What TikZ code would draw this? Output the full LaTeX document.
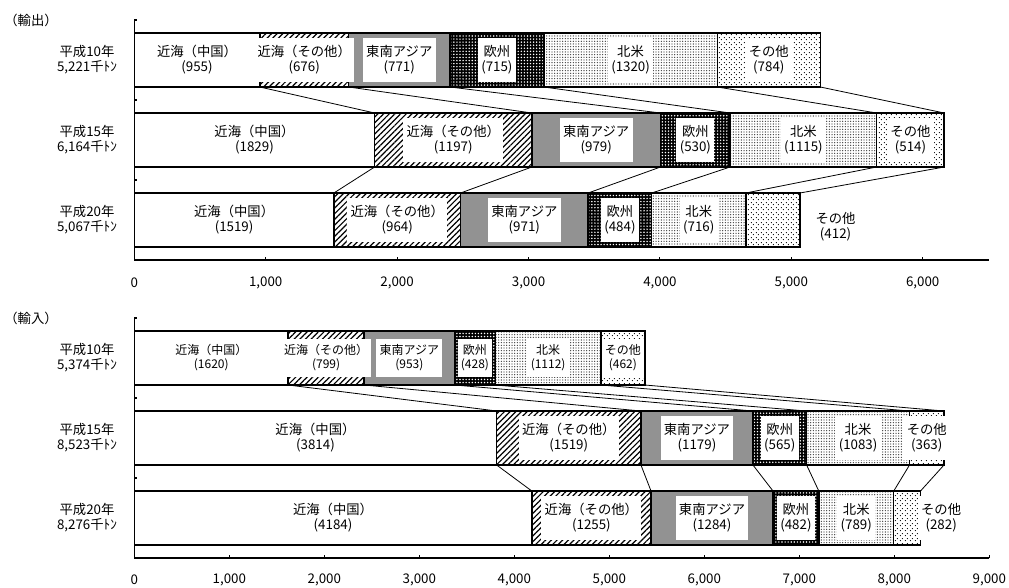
\documentclass[tikz,border=0pt]{standalone}
\usepackage{fontspec}
\newfontfamily\jpfont{Noto Sans CJK JP}
\usetikzlibrary{patterns}
\usetikzlibrary{patterns.meta}

\def\xo{134.3}
\def\bh{54}

% one stacked bar: #1 name, #2 top edge, #3 px per unit, #4 segments
\newcommand{\segrow}[4]{%
  \foreach \a/\b/\sty/\ls/\txt [count=\k] in {#4}{
    \draw[seg, \sty] ({\xo+\a*#3},#2) rectangle ({\xo+\b*#3},#2+\bh);
    \coordinate (#1-\k-t) at ({\xo+\b*#3},#2);
    \coordinate (#1-\k-b) at ({\xo+\b*#3},#2+\bh);
  }
  \foreach \a/\b/\sty/\ls/\txt [count=\k] in {#4}
    \node[\ls] (#1-\k) at ({\xo+\a*#3/2+\b*#3/2},#2+\bh/2) {\txt};
}

\begin{document}
\begin{tikzpicture}[
  x=0.75pt, y=-0.75pt,
  font=\jpfont\fontsize{10}{11.3}\selectfont,
  seg/.style={draw, line width=1.1pt},
  cn/.style={fill=white},
  hatch/.style={preaction={fill=white}, pattern={Lines[angle=45,distance=3pt,line width=0.9pt]}},
  sea/.style={preaction={fill=black!25}, pattern={Dots[distance=1.5pt,radius=0.45pt]}, pattern color=black},
  eu/.style={preaction={fill=black}, pattern={Dots[distance=2.3pt,radius=0.6pt]}, pattern color=white},
  na/.style={preaction={fill=white}, pattern={Dots[distance=2pt,radius=0.5pt]}, pattern color=black!75},
  oth/.style={preaction={fill=white}, pattern={Dots[distance=4pt,radius=0.5pt]},
    postaction={pattern={Dots[distance=4pt,radius=0.5pt,xshift=2pt,yshift=2pt]}}},
  lbl/.style={fill=white, align=center, inner xsep=2.5pt, inner ysep=5.5pt},
  lbls/.style={lbl, font=\jpfont\fontsize{9}{10.5}\selectfont, inner ysep=4.5pt},
  lblA/.style={lbl, fill=none, xshift=47pt, yshift=-5pt},
  lblB/.style={lbl, xshift=25.5pt},
  axis/.style={line width=0.8pt},
  link/.style={line width=0.6pt},
  ylab/.style={align=center}
]
\useasboundingbox (0,0) rectangle (1009,588);

% --- export ---
\node (hexp) at (31,20) {（輸出）};
\draw[axis] (\xo,20) -- (\xo,260) -- (989,260);
\foreach \y in {20,100,180} \draw[axis] (\xo,\y) -- ++(3,0);
\foreach \v/\t in {0/0,1/{1,000},2/{2,000},3/{3,000},4/{4,000},5/{5,000},6/{6,000}}{
  \draw[axis] ({\xo+\v*131.4},260) -- ++(0,-3);
  \node (te\v) at ({\xo+\v*131.4},283) {\t};
}

\node[ylab] (ye98) at (87,60) {平成10年\\5,221千ﾄﾝ};
\node[ylab] (ye03) at (87,140) {平成15年\\6,164千ﾄﾝ};
\node[ylab] (ye08) at (87,220) {平成20年\\5,067千ﾄﾝ};

\segrow{e98}{33}{0.1314}{0/955/cn/lbl/近海（中国）\\(955), 955/1631/hatch/lbl/近海（その他）\\(676),
  1631/2402/sea/lbl/東南アジア\\(771), 2402/3117/eu/lbl/欧州\\(715),
  3117/4437/na/lbl/北米\\(1320), 4437/5221/oth/lbl/その他\\(784)}
\segrow{e03}{113}{0.1314}{0/1829/cn/lbl/近海（中国）\\(1829), 1829/3026/hatch/lbl/近海（その他）\\(1197),
  3026/4005/sea/lbl/東南アジア\\(979), 4005/4535/eu/lbl/欧州\\(530),
  4535/5650/na/lbl/北米\\(1115), 5650/6164/oth/lbl/その他\\(514)}
\segrow{e08}{193}{0.1314}{0/1519/cn/lbl/近海（中国）\\(1519), 1519/2483/hatch/lbl/近海（その他）\\(964),
  2483/3454/sea/lbl/東南アジア\\(971), 3454/3938/eu/lbl/欧州\\(484),
  3938/4654/na/lbl/北米\\(716), 4654/5066/oth/lblA/その他\\(412)}

\foreach \k in {1,...,6}{
  \draw[link] (e98-\k-b) -- (e03-\k-t);
  \draw[link] (e03-\k-b) -- (e08-\k-t);
}

% --- import ---
\node (himp) at (31,318) {（輸入）};
\draw[axis] (\xo,318) -- (\xo,558) -- (989,558);
\foreach \y in {318,398,478} \draw[axis] (\xo,\y) -- ++(3,0);
\foreach \v/\t in {0/0,1/{1,000},2/{2,000},3/{3,000},4/{4,000},5/{5,000},6/{6,000},7/{7,000},8/{8,000},9/{9,000}}{
  \draw[axis] ({\xo+\v*95},558) -- ++(0,-3);
  \node (ti\v) at ({\xo+\v*95},580) {\t};
}

\node[ylab] (yi98) at (87,358) {平成10年\\5,374千ﾄﾝ};
\node[ylab] (yi03) at (87,438) {平成15年\\8,523千ﾄﾝ};
\node[ylab] (yi08) at (87,518) {平成20年\\8,276千ﾄﾝ};

\segrow{i98}{331}{0.095}{0/1620/cn/lbls/近海（中国）\\(1620), 1620/2419/hatch/lbls/近海（その他）\\(799),
  2419/3372/sea/lbls/東南アジア\\(953), 3372/3800/eu/lbls/欧州\\(428),
  3800/4912/na/lbls/北米\\(1112), 4912/5374/oth/lbls/その他\\(462)}
\segrow{i03}{411}{0.095}{0/3814/cn/lbl/近海（中国）\\(3814), 3814/5333/hatch/lbl/近海（その他）\\(1519),
  5333/6512/sea/lbl/東南アジア\\(1179), 6512/7077/eu/lbl/欧州\\(565),
  7077/8160/na/lbl/北米\\(1083), 8160/8523/oth/lbl/その他\\(363)}
\segrow{i08}{491}{0.095}{0/4184/cn/lbl/近海（中国）\\(4184), 4184/5439/hatch/lbl/近海（その他）\\(1255),
  5439/6723/sea/lbl/東南アジア\\(1284), 6723/7205/eu/lbl/欧州\\(482),
  7205/7994/na/lbl/北米\\(789), 7994/8276/oth/lblB/その他\\(282)}

\foreach \k in {1,...,6}{
  \draw[link] (i98-\k-b) -- (i03-\k-t);
  \draw[link] (i03-\k-b) -- (i08-\k-t);
}
\end{tikzpicture}
\end{document}
